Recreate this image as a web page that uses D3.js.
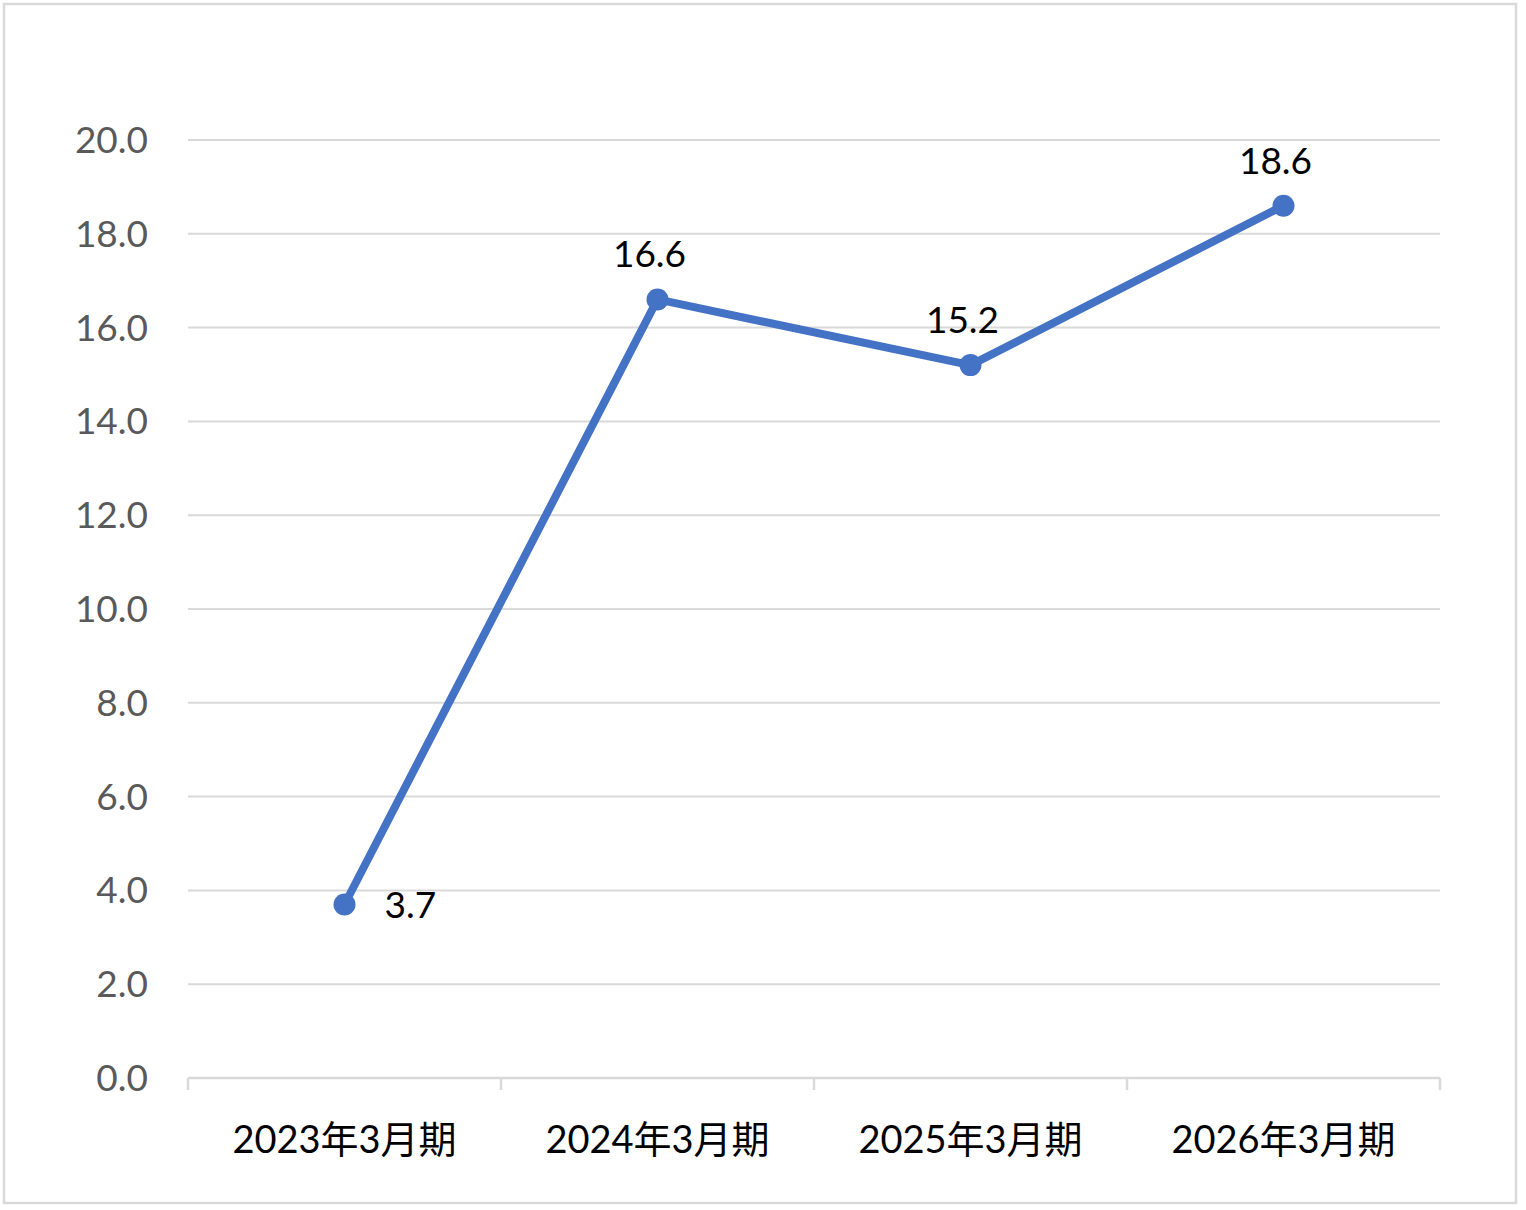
<!DOCTYPE html>
<html>
<head>
<meta charset="utf-8">
<script src="https://cdn.jsdelivr.net/npm/d3@7"></script>
<style>
  body { margin: 0; background: #fff; }
  text { font-family: Lato, "Noto Sans CJK SC", sans-serif; }
</style>
</head>
<body>
<div id="chart"></div>
<script>
// Data
const categories = ['2023年3月期', '2024年3月期', '2025年3月期', '2026年3月期'];
const values = [3.7, 16.6, 15.2, 18.6];
const yTicks = [0, 2, 4, 6, 8, 10, 12, 14, 16, 18, 20];

const W = 1526, H = 1210;
const margin = { top: 140, right: 86, bottom: 132, left: 188 };
const width = W - margin.left - margin.right;
const height = H - margin.top - margin.bottom;

const svg = d3.select('#chart')
  .append('svg')
  .attr('width', W)
  .attr('height', H);

// outer frame
svg.append('rect')
  .attr('x', 4).attr('y', 4)
  .attr('width', 1512).attr('height', 1199)
  .attr('fill', '#fff')
  .attr('stroke', '#d9d9d9')
  .attr('stroke-width', 2.5);

const g = svg.append('g')
  .attr('transform', `translate(${margin.left},${margin.top})`);

const x = d3.scaleBand().domain(categories).range([0, width]);
const y = d3.scaleLinear().domain([0, 20]).range([height, 0]);

// gridlines
g.selectAll('.grid')
  .data(yTicks.filter((d) => d > 0))
  .enter()
  .append('line')
  .attr('x1', 0)
  .attr('x2', width)
  .attr('y1', (d) => y(d))
  .attr('y2', (d) => y(d))
  .attr('stroke', '#d9d9d9')
  .attr('stroke-width', 2);

// y labels
g.selectAll('.ylab')
  .data(yTicks)
  .enter()
  .append('text')
  .attr('x', -40)
  .attr('y', (d) => y(d))
  .attr('dy', '0.35em')
  .attr('text-anchor', 'end')
  .attr('fill', '#595959')
  .style('font-size', '37px')
  .text((d) => d.toFixed(1));

// x axis
const xAxis = g.append('g').attr('transform', `translate(0,${height})`);
xAxis.append('line')
  .attr('x1', 0).attr('x2', width)
  .attr('stroke', '#d9d9d9').attr('stroke-width', 2.5);
const bounds = categories.map((c) => x(c)).concat([width]);
xAxis.selectAll('.tick')
  .data(bounds)
  .enter()
  .append('line')
  .attr('x1', (d) => d).attr('x2', (d) => d)
  .attr('y1', 0).attr('y2', 12)
  .attr('stroke', '#d9d9d9').attr('stroke-width', 2.5);
xAxis.selectAll('.xlab')
  .data(categories)
  .enter()
  .append('text')
  .attr('x', (d) => x(d) + x.bandwidth() / 2)
  .attr('y', 75)
  .attr('text-anchor', 'middle')
  .attr('fill', '#000')
  .style('font-size', '38px')
  .text((d) => d);

// line
const pts = categories.map((c, i) => [x(c) + x.bandwidth() / 2, y(values[i])]);
g.append('path')
  .datum(pts)
  .attr('d', d3.line())
  .attr('fill', 'none')
  .attr('stroke', '#4472c4')
  .attr('stroke-width', 8)
  .attr('stroke-linejoin', 'round');

g.selectAll('.dot')
  .data(pts)
  .enter()
  .append('circle')
  .attr('cx', (d) => d[0])
  .attr('cy', (d) => d[1])
  .attr('r', 11)
  .attr('fill', '#4472c4');

// data labels
g.selectAll('.vlab')
  .data(values)
  .enter()
  .append('text')
  .attr('x', (d, i) => i === 0 ? pts[i][0] + 40 : pts[i][0] - 8)
  .attr('y', (d, i) => i === 0 ? pts[i][1] + 14 : pts[i][1] - 32)
  .attr('text-anchor', (d, i) => i === 0 ? 'start' : 'middle')
  .attr('fill', '#000')
  .style('font-size', '37px')
  .text((d) => d.toFixed(1));
</script>
</body>
</html>
